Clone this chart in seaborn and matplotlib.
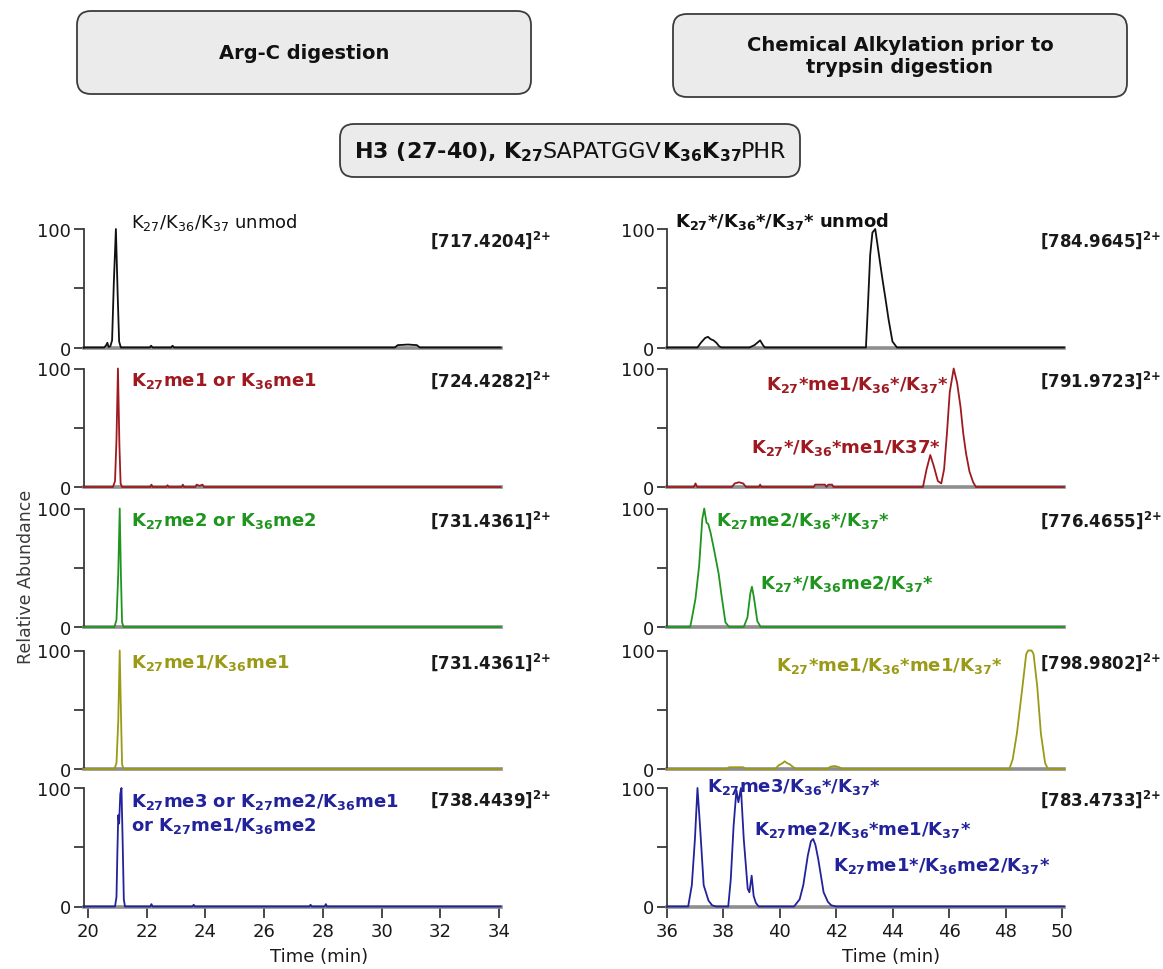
import matplotlib
matplotlib.use("Agg")
import matplotlib.pyplot as plt
import seaborn as sns
from matplotlib.patches import FancyBboxPatch

sns.set_theme(style="white")
plt.rcParams["font.family"] = ["DejaVu Sans"]
plt.rcParams["mathtext.default"] = "regular"

# ---------------- chromatogram traces (time in min, relative abundance in %) ----
# Arg-C digestion
argc_unmod_t = [19.85, 20.55, 20.62, 20.66, 20.70, 20.76, 20.82, 20.88, 20.95, 21.01, 21.06, 21.12,
                22.10, 22.15, 22.20, 22.83, 22.88, 22.93, 30.45, 30.55, 30.90, 31.20, 31.30, 34.06]
argc_unmod_y = [0, 0, 2, 4, 0.5, 1, 6, 55, 100, 45, 5, 0,
                0, 1.5, 0, 0, 1.5, 0, 0, 2, 2.5, 2, 0, 0]

argc_me1_t = [19.85, 20.85, 20.92, 20.97, 21.02, 21.07, 21.11, 21.16, 22.12, 22.16, 22.20, 22.67, 22.71,
              22.75, 23.19, 23.23, 23.27, 23.66, 23.70, 23.80, 23.90, 23.95, 34.06]
argc_me1_y = [0, 0, 5, 40, 100, 35, 3, 0, 0, 2, 0, 0, 1.5,
              0, 0, 2, 0, 0, 2, 1, 2, 0, 0]

argc_me2_t = [19.85, 20.90, 20.97, 21.03, 21.08, 21.12, 21.16, 21.21, 34.06]
argc_me2_y = [0, 0, 6, 45, 100, 45, 4, 0, 0]

argc_me1me1_t = [19.85, 20.90, 20.97, 21.03, 21.08, 21.12, 21.16, 21.21, 34.06]
argc_me1me1_y = [0, 0, 5, 40, 100, 50, 4, 0, 0]

argc_me3_t = [19.85, 20.92, 20.97, 21.00, 21.03, 21.06, 21.10, 21.14, 21.18, 21.22, 21.26, 22.12, 22.16,
              22.20, 23.56, 23.60, 23.64, 27.54, 27.58, 27.62, 28.06, 28.10, 28.14, 34.06]
argc_me3_y = [0, 0, 8, 45, 77, 70, 95, 100, 55, 6, 0, 0, 2,
              0, 0, 1.5, 0, 0, 1.5, 0, 0, 2, 0, 0]

# Chemical alkylation prior to trypsin digestion
alk_unmod_t = [36.00, 37.08, 37.20, 37.35, 37.45, 37.55, 37.65, 37.75, 37.85, 37.93, 38.92, 39.10, 39.30,
               39.40, 39.47, 43.05, 43.12, 43.20, 43.28, 43.38, 43.50, 43.62, 43.75, 43.85, 43.99, 44.15, 50.08]
alk_unmod_y = [0, 0, 4, 8, 9, 7, 6, 4, 1, 0, 0, 2, 6,
               2, 0, 0, 35, 78, 97, 100, 80, 60, 40, 24, 5, 0, 0]

alk_me1_t = [36.00, 36.95, 37.01, 37.07, 38.30, 38.40, 38.55, 38.70, 38.80, 39.26, 39.30, 39.34, 41.20,
             41.25, 41.60, 41.65, 41.72, 41.85, 41.90, 45.07, 45.20, 45.33, 45.45, 45.60, 45.72, 45.82,
             45.92, 46.02, 46.16, 46.28, 46.40, 46.50, 46.60, 46.72, 46.85, 46.95, 50.08]
alk_me1_y = [0, 0, 3, 0, 0, 3, 4, 3, 0, 0, 2, 0, 0,
             2, 2, 0, 2, 2, 0, 0, 15, 27, 18, 5, 3, 15,
             45, 80, 100, 88, 68, 45, 28, 13, 4, 0, 0]

alk_me2_t = [36.00, 36.82, 36.88, 37.01, 37.14, 37.25, 37.32, 37.40, 37.46, 37.54, 37.67, 37.83, 37.93,
             38.07, 38.20, 38.72, 38.85, 38.95, 39.01, 39.08, 39.20, 39.32, 50.08]
alk_me2_y = [0, 0, 7, 24, 52, 91, 100, 88, 87, 80, 65, 45, 27,
             4, 0, 0, 8, 28, 34, 25, 5, 0, 0]

alk_me1me1_t = [36.00, 38.13, 38.20, 38.70, 38.79, 39.84, 39.95, 40.10, 40.17, 40.25, 40.35, 40.45, 40.57,
                41.68, 41.80, 41.95, 42.10, 42.21, 48.13, 48.25, 48.40, 48.60, 48.73, 48.80, 48.92,
                48.99, 49.12, 49.25, 49.40, 49.50, 50.08]
alk_me1me1_y = [0, 0, 1.5, 1.5, 0, 0, 3, 5, 6.5, 5, 4, 2, 0,
                0, 2, 2.5, 1.5, 0, 0, 8, 30, 70, 97, 100, 100,
                97, 70, 30, 5, 0, 0]

alk_me3_t = [36.00, 36.75, 36.88, 36.99, 37.08, 37.17, 37.30, 37.47, 37.60, 37.74, 38.17, 38.26, 38.36,
             38.46, 38.53, 38.62, 38.72, 38.86, 38.92, 39.00, 39.07, 39.15, 39.25, 40.50, 40.70, 40.83,
             40.99, 41.10, 41.18, 41.26, 41.36, 41.55, 41.70, 41.82, 42.00, 50.08]
alk_me3_y = [0, 0, 18, 57, 100, 68, 18, 5, 1, 0, 0, 23, 68,
             98, 88, 100, 57, 15, 12, 26, 9, 3, 0, 0, 6, 18,
             43, 55, 57, 52, 40, 12, 4, 1, 0, 0]

# precursor m/z labels
left_mz = ["[717.4204]", "[724.4282]", "[731.4361]", "[731.4361]", "[738.4439]"]
right_mz = ["[784.9645]", "[791.9723]", "[776.4655]", "[798.9802]", "[783.4733]"]

left_ticks = [20, 22, 24, 26, 28, 30, 32, 34]
right_ticks = [36, 38, 40, 42, 44, 46, 48, 50]

BLACK = "#111111"
RED = "#9e1a20"
GREEN = "#1f951f"
OLIVE = "#9b9a17"
BLUE = "#22229a"
colors = [BLACK, RED, GREEN, OLIVE, BLUE]

left_traces = [(argc_unmod_t, argc_unmod_y), (argc_me1_t, argc_me1_y), (argc_me2_t, argc_me2_y),
               (argc_me1me1_t, argc_me1me1_y), (argc_me3_t, argc_me3_y)]
right_traces = [(alk_unmod_t, alk_unmod_y), (alk_me1_t, alk_me1_y), (alk_me2_t, alk_me2_y),
                (alk_me1me1_t, alk_me1me1_y), (alk_me3_t, alk_me3_y)]

# peak annotations: (panel, x, y, text, bold)
left_labels = [
    (0, 21.45, 106, r"K$_{27}$/K$_{36}$/K$_{37}$ unmod", False),
    (1, 21.45, 90, r"K$_{27}$me1 or K$_{36}$me1", True),
    (2, 21.45, 90, r"K$_{27}$me2 or K$_{36}$me2", True),
    (3, 21.45, 90, r"K$_{27}$me1/K$_{36}$me1", True),
    (4, 21.45, 89, r"K$_{27}$me3 or K$_{27}$me2/K$_{36}$me1", True),
    (4, 21.45, 69, r"or K$_{27}$me1/K$_{36}$me2", True),
]
right_labels = [
    (0, 36.29, 107, r"K$_{27}$*/K$_{36}$*/K$_{37}$* unmod", True),
    (1, 39.51, 87, r"K$_{27}$*me1/K$_{36}$*/K$_{37}$*", True),
    (1, 38.96, 34, r"K$_{27}$*/K$_{36}$*me1/K37*", True),
    (2, 37.74, 90, r"K$_{27}$me2/K$_{36}$*/K$_{37}$*", True),
    (2, 39.29, 37, r"K$_{27}$*/K$_{36}$me2/K$_{37}$*", True),
    (3, 39.86, 88, r"K$_{27}$*me1/K$_{36}$*me1/K$_{37}$*", True),
    (4, 37.41, 102, r"K$_{27}$me3/K$_{36}$*/K$_{37}$*", True),
    (4, 39.09, 65, r"K$_{27}$me2/K$_{36}$*me1/K$_{37}$*", True),
    (4, 41.88, 35, r"K$_{27}$me1*/K$_{36}$me2/K$_{37}$*", True),
]

# ---------------- layout (pixels on a 1163 x 970 canvas) ----------------
W, H = 1163, 970
fig = plt.figure(figsize=(W / 100, H / 100), dpi=100)
fig.patch.set_facecolor("white")

panel_tops = [230, 369.5, 509.5, 651.5, 789]
panel_h = 118.5
left_x0, left_x1 = 83.6, 500.8
right_x0, right_x1 = 667, 1064.3
left_xlim = (19.85, 34.06)
right_xlim = (36.0, 50.08)

TICK_FS = 13
LAB_FS = 13
MZ_FS = 12


def make_axes(x0, x1, top):
    return fig.add_axes([x0 / W, 1 - (top + panel_h) / H, (x1 - x0) / W, panel_h / H])


def style_axes(ax, xlim, ticks, bottom):
    ax.set_xlim(*xlim)
    ax.set_ylim(0, 100)
    for side in ("top", "right"):
        ax.spines[side].set_visible(False)
    ax.spines["left"].set_color("#3a3a3a")
    ax.spines["left"].set_linewidth(1.3)
    ax.spines["bottom"].set_color("#8e8e8e")
    ax.spines["bottom"].set_linewidth(2.6)
    ax.spines["bottom"].set_zorder(1)
    ax.set_yticks([0, 50, 100])
    ax.set_yticklabels(["0", "", "100"])
    ax.tick_params(axis="y", direction="out", length=7, width=1.3, color="#3a3a3a",
                   labelsize=TICK_FS, pad=2, left=True, labelcolor="#1a1a1a")
    if bottom:
        ax.set_xticks(ticks)
        ax.set_xticklabels([str(t) for t in ticks])
        ax.tick_params(axis="x", direction="out", length=8, width=1.3, color="#3a3a3a",
                       labelsize=TICK_FS, pad=3, bottom=True, labelcolor="#1a1a1a")
    else:
        ax.set_xticks([])
    ax.set_xlabel("")
    ax.set_ylabel("")
    ax.patch.set_alpha(0)


def draw_column(x0, x1, xlim, ticks, traces, mz, mz_x, labels):
    axes = []
    for i, (t, y) in enumerate(traces):
        ax = make_axes(x0, x1, panel_tops[i])
        sns.lineplot(x=t, y=y, ax=ax, color=colors[i], linewidth=1.3,
                     estimator=None, sort=False, zorder=3)
        for ln in ax.lines:
            ln.set_clip_on(False)
        style_axes(ax, xlim, ticks, i == len(traces) - 1)
        ax.text(mz_x, 0.91, mz[i] + r"$^{2{+}}$", transform=ax.transAxes, ha="left", va="center",
                fontsize=MZ_FS, fontweight="bold", color="#1a1a1a", clip_on=False)
        axes.append(ax)
    for panel, x, y, s, bold in labels:
        axes[panel].text(x, y, s, ha="left", va="center", fontsize=LAB_FS,
                         fontweight="bold" if bold else "normal",
                         color=colors[panel], clip_on=False, zorder=5)
    return axes


laxes = draw_column(left_x0, left_x1, left_xlim, left_ticks, left_traces, left_mz, 0.83, left_labels)
raxes = draw_column(right_x0, right_x1, right_xlim, right_ticks, right_traces, right_mz, 0.94, right_labels)

# axis titles
for x0, x1 in ((left_x0, left_x1), (right_x0, right_x1)):
    fig.text((x0 + 0.565 * (x1 - x0)) / W, 1 - 957 / H, "Time (min)", ha="center", va="center",
             fontsize=13, color="#1a1a1a")
fig.text(26 / W, 1 - 577 / H, "Relative Abundance", rotation=90, ha="center", va="center",
         fontsize=12.5, color="#3a3a3a")


# ---------------- header boxes ----------------
def header_box(x0, y0, x1, y1):
    box = FancyBboxPatch((x0 / W, 1 - y1 / H), (x1 - x0) / W, (y1 - y0) / H,
                         boxstyle="round,pad=0,rounding_size=0.012",
                         transform=fig.transFigure, facecolor="#ebebeb",
                         edgecolor="#3c3c3c", linewidth=1.3, mutation_aspect=W / H)
    fig.add_artist(box)


header_box(77, 12, 531, 95)
header_box(673, 15, 1127, 98)
header_box(340, 125, 800, 178)

fig.text((77 + 531) / 2 / W, 1 - 53.5 / H, "Arg-C digestion", ha="center", va="center",
         fontsize=14, fontweight="bold", color="#111111")
fig.text((673 + 1127) / 2 / W, 1 - 56.5 / H, "Chemical Alkylation prior to\ntrypsin digestion",
         ha="center", va="center", fontsize=14, fontweight="bold", color="#111111",
         linespacing=1.15)

# peptide sequence: bold and regular pieces set side by side on one baseline
pieces = [(r"H3 (27-40), K$_{27}$", "bold"), ("SAPATGGV", "normal"),
          (r"K$_{36}$K$_{37}$", "bold"), ("PHR", "normal")]
seq_texts = [fig.text(0, 1 - 158 / H, s, ha="left", va="baseline", fontsize=16,
                      fontweight=w, color="#111111") for s, w in pieces]
renderer = fig.canvas.get_renderer()
widths = [t.get_window_extent(renderer).width for t in seq_texts]
x = (340 + 800) / 2 - sum(widths) / 2
for t, w in zip(seq_texts, widths):
    t.set_x(x / W)
    x += w

fig.savefig("out.png", dpi=100, facecolor="white")
